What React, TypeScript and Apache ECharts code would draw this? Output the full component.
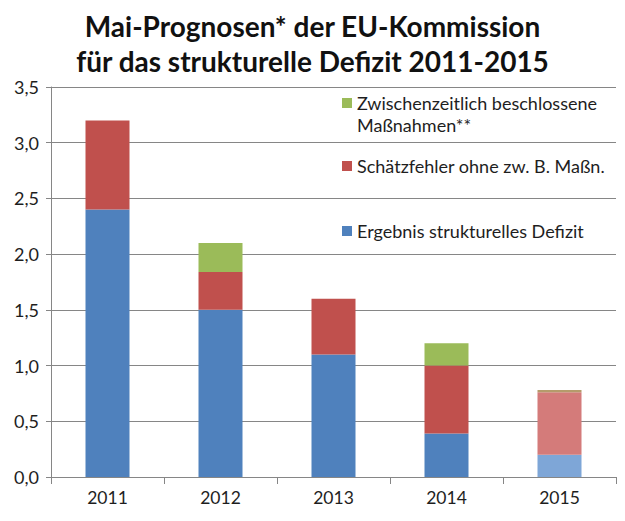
import React, { useEffect, useRef } from "react";
import * as echarts from "echarts";

const categories = ["2011", "2012", "2013", "2014", "2015"];
const ergebnis = [2.4, 1.5, 1.1, 0.39, 0.2];
const schaetzfehler = [0.8, 0.34, 0.5, 0.61, 0.56];
const massnahmen = [0, 0.26, 0, 0.2, 0.02];
const yTicks = [0, 0.5, 1, 1.5, 2, 2.5, 3, 3.5];

const BLUE = "#4F81BD";
const RED = "#C0504D";
const GREEN = "#9BBB59";
const LIGHT = ["#7EA6D7", "#D47B7A", "#B59B6B"];
const FONT = "Lato";
const TXT = "#1e1e1e";

export default function App() {
  const ref = useRef<HTMLDivElement>(null);
  useEffect(() => {
    if (!ref.current) return;
    const chart = echarts.init(ref.current, null, { renderer: "svg" });
    const mk = (vals: number[], color: string, lightIdx: number) =>
      vals.map((v, i) =>
        i === 4 ? { value: v, itemStyle: { color: LIGHT[lightIdx] } } : { value: v, itemStyle: { color } }
      );
    const legendBase = {
      orient: "vertical" as const,
      left: 337,
      itemWidth: 10,
      itemHeight: 10,
      itemGap: 0,
      icon: "rect",
      textStyle: { fontFamily: FONT, fontSize: 18, color: TXT, lineHeight: 18 },
      selectedMode: false,
    };
    chart.setOption({
      animation: false,
      backgroundColor: "#fff",
      title: {
        text: "Mai-Prognosen* der EU-Kommission\nfür das strukturelle Defizit 2011-2015",
        left: "center",
        top: 3,
        textStyle: { fontFamily: FONT, fontSize: 28, fontWeight: "bold", color: "#111", lineHeight: 35 },
      },
      legend: [
        { ...legendBase, top: 89, data: ["Zwischenzeitlich beschlossene Maßnahmen**"], formatter: () => "Zwischenzeitlich beschlossene" },
        { ...legendBase, top: 152, data: ["Schätzfehler ohne zw. B. Maßn."] },
        { ...legendBase, top: 217, data: ["Ergebnis strukturelles Defizit"] },
      ],
      graphic: [
        {
          type: "text",
          left: 357,
          top: 116,
          style: { text: "Maßnahmen**", fontFamily: FONT, fontSize: 18, lineHeight: 18, fill: TXT },
        },
      ],
      grid: { left: 51, right: 9, top: 87, bottom: 44, containLabel: false },
      xAxis: {
        type: "category",
        data: categories,
        axisLine: { lineStyle: { color: "#868686" } },
        axisTick: { show: true, length: 7, lineStyle: { color: "#868686" } },
        axisLabel: { fontFamily: FONT, fontSize: 17.5, color: TXT, margin: 11 },
      },
      yAxis: {
        type: "value",
        min: 0,
        max: 3.5,
        interval: 0.5,
        axisLine: { show: true, lineStyle: { color: "#868686" } },
        axisTick: { show: true, length: 5, lineStyle: { color: "#868686" } },
        splitLine: { lineStyle: { color: "#868686" } },
        axisLabel: {
          fontFamily: FONT,
          fontSize: 18,
          color: TXT,
          margin: 12,
          formatter: (v: number) => (yTicks.includes(v) ? v.toFixed(1).replace(".", ",") : ""),
        },
      },
      series: [
        { name: "Ergebnis strukturelles Defizit", type: "bar", stack: "a", barWidth: 44, data: mk(ergebnis, BLUE, 0), itemStyle: { color: BLUE } },
        { name: "Schätzfehler ohne zw. B. Maßn.", type: "bar", stack: "a", barWidth: 44, data: mk(schaetzfehler, RED, 1), itemStyle: { color: RED } },
        { name: "Zwischenzeitlich beschlossene Maßnahmen**", type: "bar", stack: "a", barWidth: 44, data: mk(massnahmen, GREEN, 2), itemStyle: { color: GREEN } },
      ],
    });
    return () => chart.dispose();
  }, []);
  return <div ref={ref} style={{ width: 625, height: 521, position: "absolute", left: 0, top: 0 }} />;
}
